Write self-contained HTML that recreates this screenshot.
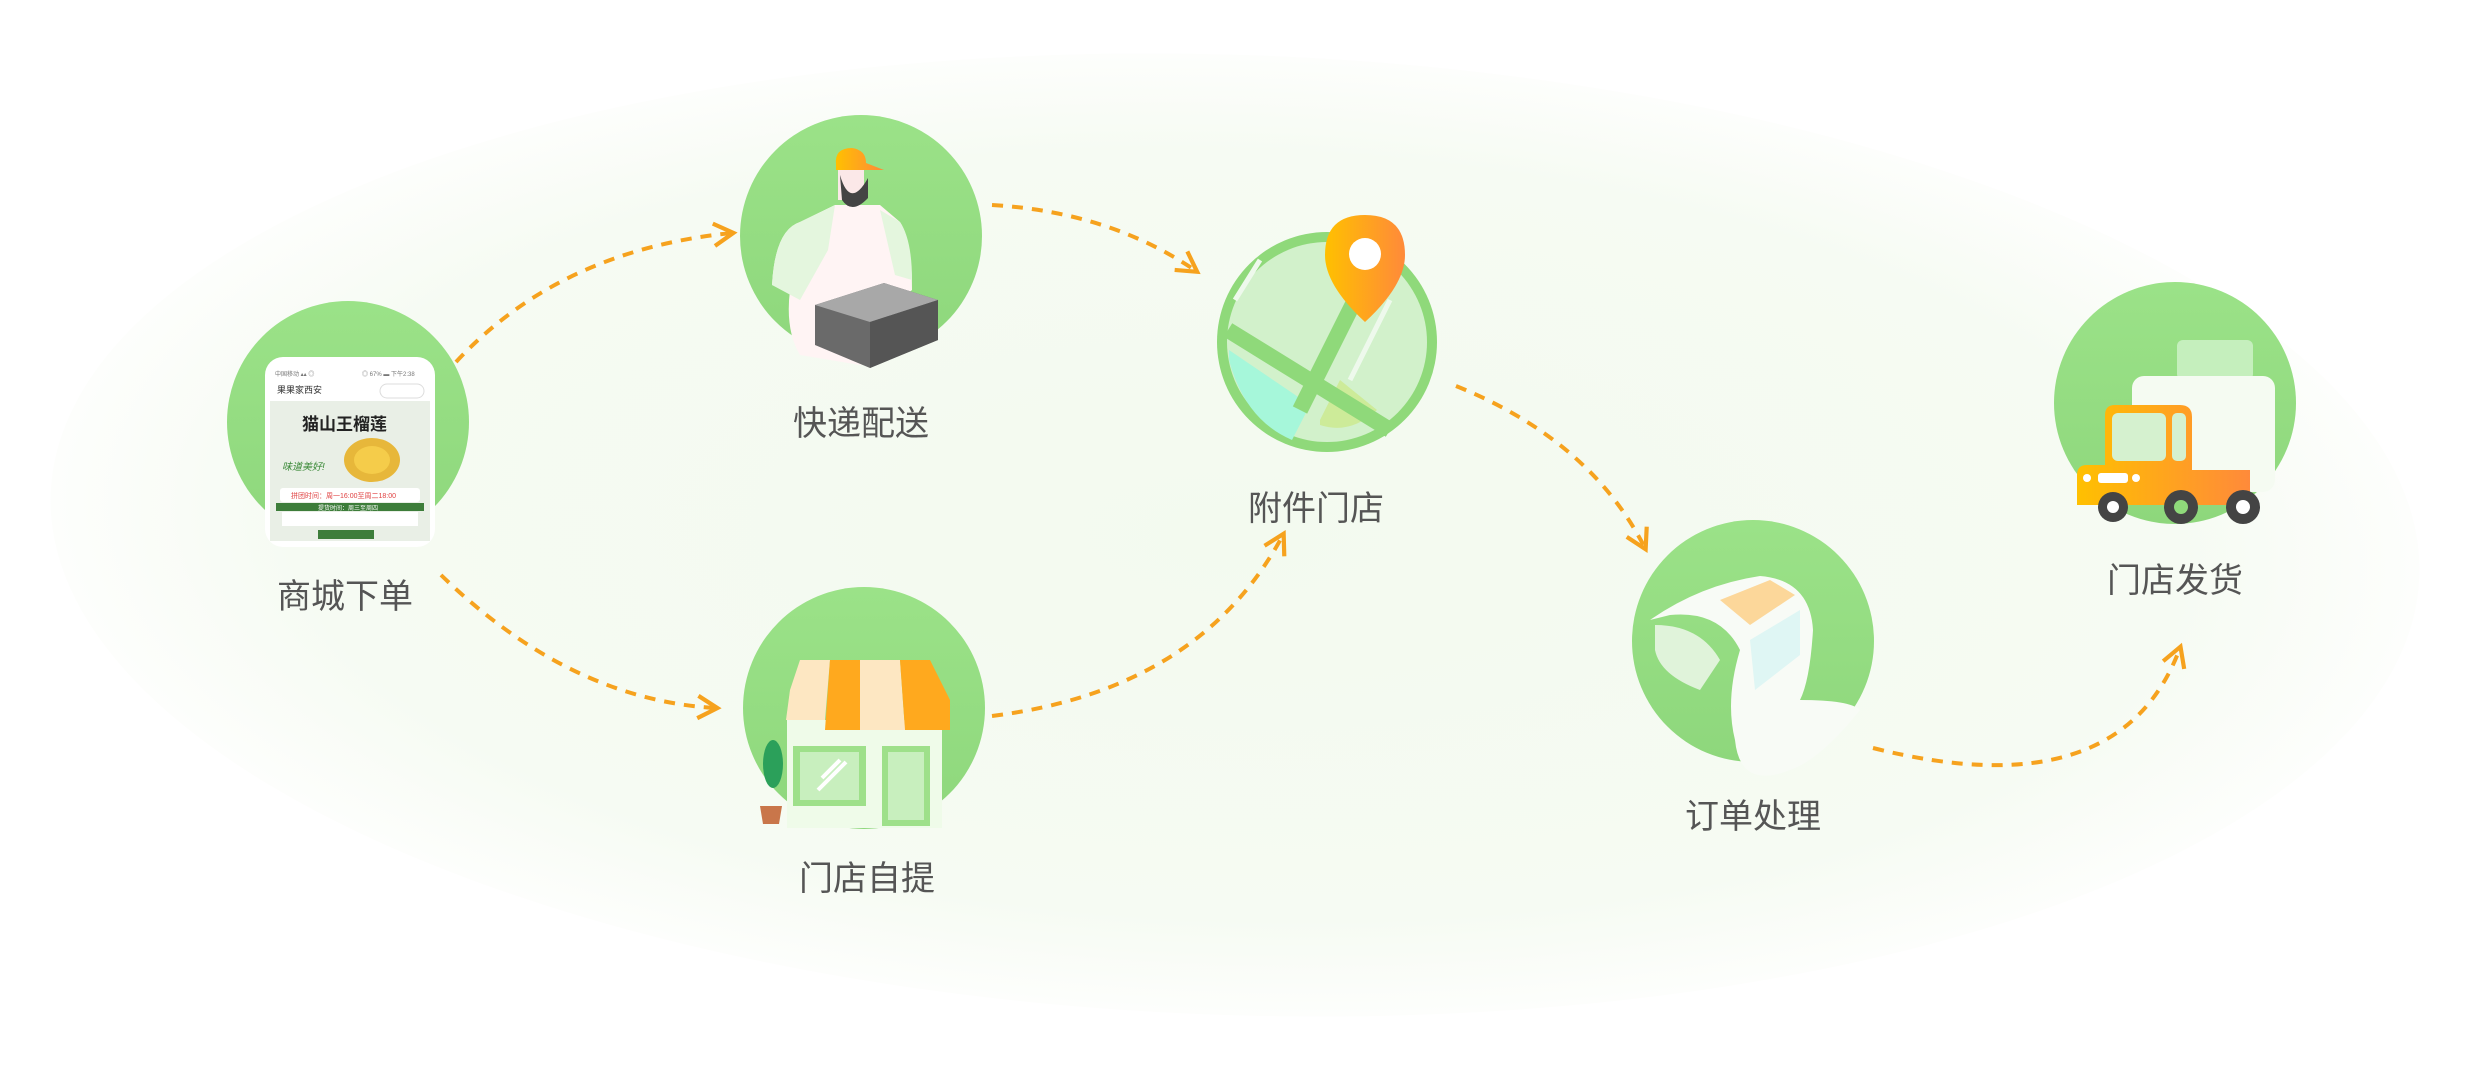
<!DOCTYPE html>
<html><head><meta charset="utf-8"><style>
html,body{margin:0;padding:0;background:#fff;}
svg{display:block}
text{font-family:"Liberation Sans","Noto Sans CJK SC",sans-serif;}
</style></head><body>
<svg width="2468" height="1076" viewBox="0 0 2468 1076" xmlns="http://www.w3.org/2000/svg">
<defs>
<radialGradient id="bg" cx="0.5" cy="0.5" r="0.5">
<stop offset="0" stop-color="#f3faef"/><stop offset="0.8" stop-color="#f6fbf3"/><stop offset="1" stop-color="#fdfefc"/>
</radialGradient>
<linearGradient id="cg" x1="0" y1="0" x2="0" y2="1"><stop offset="0" stop-color="#9be288"/><stop offset="1" stop-color="#8ed77c"/></linearGradient>
<linearGradient id="og" x1="0" y1="0" x2="1" y2="0"><stop offset="0" stop-color="#ffc000"/><stop offset="1" stop-color="#ff8a3a"/></linearGradient>
<marker id="ar" viewBox="0 0 20 20" refX="16" refY="10" markerWidth="7" markerHeight="7" markerUnits="strokeWidth" orient="auto">
<path d="M3 2 L17 10 L3 18" fill="none" stroke="#f6a21e" stroke-width="3"/>
</marker>
</defs>
<rect width="2468" height="1076" fill="#fff"/>
<ellipse cx="1235" cy="535" rx="1185" ry="480" fill="url(#bg)" transform="rotate(2 1235 535)"/>

<g fill="none" stroke="#f6a21e" stroke-width="4" stroke-dasharray="11 9" marker-end="url(#ar)">
<path d="M456 362 Q560 250 732 233"/>
<path d="M992 205 Q1110 212 1196 271"/>
<path d="M441 575 Q570 700 716 708"/>
<path d="M992 716 Q1200 690 1283 535"/>
<path d="M1456 386 Q1590 440 1645 548"/>
<path d="M1873 748 Q2120 810 2180 648"/>
</g>

<!-- C1 -->
<circle cx="348" cy="422" r="121" fill="url(#cg)"/>
<rect x="265" y="357" width="170" height="190" rx="18" fill="#fff"/>
<text x="275" y="376" font-size="6" fill="#777">中国移动 ▴▴ ◎</text>
<text x="362" y="376" font-size="6" fill="#777">◎ 67% ▬ 下午2:38</text>
<text x="277" y="393" font-size="9" fill="#333">果果家西安</text>
<rect x="380" y="384" width="44" height="14" rx="7" fill="#fff" stroke="#ddd"/>
<rect x="270" y="401" width="160" height="140" fill="#e9efe6"/>
<text x="302" y="430" font-size="17" font-weight="bold" fill="#222">猫山王榴莲</text>
<ellipse cx="372" cy="460" rx="28" ry="22" fill="#e7b73a"/>
<ellipse cx="372" cy="460" rx="18" ry="14" fill="#f5cc4a"/>
<text x="282" y="470" font-size="10" fill="#3c8a3a" font-style="italic">味道美好!</text>
<rect x="280" y="488" width="140" height="14" rx="3" fill="#fff"/>
<text x="291" y="498" font-size="7" fill="#e04040">拼团时间：周一16:00至周二18:00</text>
<rect x="276" y="503" width="148" height="8" fill="#3d7d3a"/>
<text x="318" y="510" font-size="6" fill="#fff">提货时间：周三至周四</text>
<rect x="282" y="512" width="136" height="14" fill="#fff"/>
<rect x="318" y="530" width="56" height="9" fill="#3d7d3a"/>

<!-- C2 -->
<circle cx="861" cy="236" r="121" fill="url(#cg)"/>
<path d="M772 285 Q775 230 800 222 L835 205 L880 205 L900 222 Q912 240 912 290 L900 300 L895 330 Q880 360 860 365 L800 355 Q785 330 790 290 Z" fill="#fff4f4"/>
<path d="M772 285 Q775 230 800 222 L835 205 L828 250 L800 300 Z" fill="#e4f6de"/>
<path d="M880 210 L900 222 Q912 240 912 280 L895 275 Z" fill="#e4f6de"/>
<rect x="838" y="160" width="26" height="40" fill="#fbe8e8"/>
<path d="M840 175 Q850 210 868 178 L868 198 Q852 215 842 200 Z" fill="#444"/>
<path d="M836 165 Q834 148 852 148 Q866 150 866 163 L884 170 L836 170 Z" fill="url(#og)"/>
<polygon points="815,305 884,283 938,300 938,340 870,368 815,345" fill="#6a6a6a"/>
<polygon points="815,305 884,283 938,300 870,322" fill="#a8a8a8"/>
<polygon points="870,322 938,300 938,340 870,368" fill="#555"/>
<text x="861" y="435" font-size="34" fill="#555" text-anchor="middle">快递配送</text>

<!-- C3 -->
<circle cx="864" cy="708" r="121" fill="url(#cg)"/>
<rect x="787" y="720" width="155" height="108" fill="#effbe9"/>
<rect x="793" y="746" width="73" height="60" fill="#9ee08a"/>
<rect x="800" y="752" width="59" height="48" fill="#c8efbe"/>
<path d="M822 778 L840 760 M818 790 L846 762" stroke="#fff" stroke-width="4"/>
<rect x="882" y="746" width="48" height="80" fill="#9ee08a"/>
<rect x="888" y="752" width="36" height="68" fill="#c8efbe"/>
<path d="M790 690 L800 660 L830 660 L825 720 L786 720 Z" fill="#fde7c2"/>
<path d="M830 660 L860 660 L860 730 L825 730 Z" fill="#ffa91e"/>
<path d="M860 660 L900 660 L905 730 L860 730 Z" fill="#fde7c2"/>
<path d="M900 660 L930 660 L950 700 L950 730 L905 730 Z" fill="#ffa91e"/>
<ellipse cx="773" cy="764" rx="10" ry="24" fill="#2ba05a"/>
<polygon points="760,806 782,806 779,824 763,824" fill="#c9764a"/>
<text x="867" y="890" font-size="34" fill="#555" text-anchor="middle">门店自提</text>

<!-- C4 -->
<circle cx="1327" cy="342" r="110" fill="#8fd97a"/>
<circle cx="1327" cy="342" r="100" fill="#d2f1cb"/>
<path d="M1229 350 L1310 405 L1292 440 Q1245 420 1229 360 Z" fill="#a6f7da"/>
<path d="M1320 420 L1340 380 L1377 410 Q1350 435 1320 425 Z" fill="#cdeb99"/>
<path d="M1228 330 L1390 430 M1300 410 L1370 270" stroke="#8fd97a" stroke-width="16" fill="none"/>
<path d="M1260 260 L1235 300 M1390 300 L1350 380" stroke="#eef9ec" stroke-width="5" fill="none"/>
<path d="M1365 215 Q1325 215 1325 255 Q1325 285 1365 322 Q1405 285 1405 255 Q1405 215 1365 215 Z" fill="url(#og)"/>
<circle cx="1365" cy="254" r="16" fill="#fff"/>
<text x="1316" y="520" font-size="34" fill="#555" text-anchor="middle">附件门店</text>

<!-- C5 -->
<circle cx="1753" cy="641" r="121" fill="url(#cg)"/>
<path d="M1650 620 Q1700 585 1760 576 Q1810 580 1813 630 Q1810 680 1800 700 Q1850 700 1860 710 Q1820 760 1790 770 Q1740 790 1735 740 Q1725 700 1740 650 Q1720 610 1670 615 Z" fill="#f8fbf6"/>
<path d="M1655 625 Q1700 625 1720 660 L1700 690 Q1660 675 1655 650 Z" fill="#e0f3da"/>
<path d="M1720 600 L1770 580 L1795 595 L1750 625 Z" fill="#fcd79a"/>
<path d="M1750 640 L1800 610 L1800 655 L1755 690 Z" fill="#dff6f4"/>
<text x="1753" y="828" font-size="34" fill="#555" text-anchor="middle">订单处理</text>

<!-- C6 -->
<circle cx="2175" cy="403" r="121" fill="url(#cg)"/>
<rect x="2177" y="340" width="76" height="40" rx="6" fill="#c5efbd"/>
<rect x="2132" y="376" width="143" height="116" rx="12" fill="#f5fbf2"/>
<path d="M2105 415 Q2105 405 2115 405 L2180 405 Q2192 405 2192 417 L2192 470 L2250 470 L2250 505 L2077 505 L2077 475 Q2077 465 2087 465 L2105 465 Z" fill="url(#og)"/>
<rect x="2112" y="413" width="54" height="48" rx="6" fill="#d5f1cf"/>
<rect x="2172" y="413" width="14" height="48" rx="5" fill="#d5f1cf"/>
<rect x="2098" y="473" width="30" height="10" rx="3" fill="#fff"/>
<circle cx="2087" cy="478" r="4" fill="#fff"/><circle cx="2136" cy="478" r="4" fill="#fff"/>
<circle cx="2113" cy="507" r="15" fill="#444"/><circle cx="2113" cy="507" r="6" fill="#fff"/>
<circle cx="2181" cy="507" r="17" fill="#444"/><circle cx="2181" cy="507" r="7" fill="#8fd97a"/>
<circle cx="2243" cy="507" r="17" fill="#444"/><circle cx="2243" cy="507" r="7" fill="#fff"/>
<text x="2175" y="592" font-size="34" fill="#555" text-anchor="middle">门店发货</text>

<text x="345" y="608" font-size="34" fill="#555" text-anchor="middle">商城下单</text>
</svg>
</body></html>
